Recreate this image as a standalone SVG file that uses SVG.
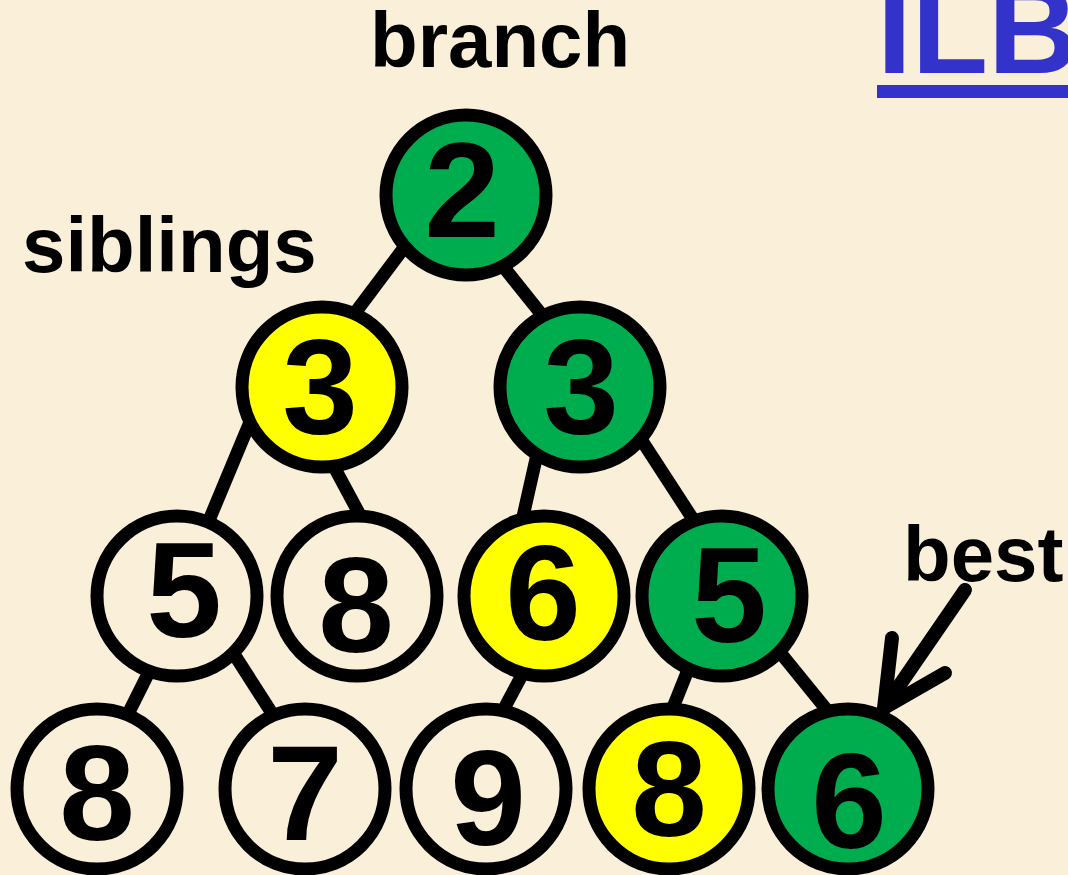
<svg xmlns="http://www.w3.org/2000/svg" width="1068" height="875" viewBox="0 0 1068 875">
<style>
.edge{stroke:#000;stroke-width:13;stroke-linecap:butt;fill:none}
.nd{stroke:#000;stroke-width:13}
.w{fill:#FAEFD9}
.g{fill:#00AD4E}
.y{fill:#FFFF00}
.num{font-family:"Liberation Sans",Arial,sans-serif;font-weight:bold;font-size:136px;fill:#000;text-anchor:middle}
.lbl{font-family:"Liberation Sans",Arial,sans-serif;font-weight:bold;font-size:78px;fill:#000}
</style>
<rect x="0" y="0" width="1068" height="875" fill="#FAEFD9"/>
<g id="connectors">
<line class="edge" x1="415" y1="233" x2="340" y2="333"/>
<line class="edge" x1="490" y1="250" x2="550" y2="325"/>
<line class="edge" x1="255" y1="410" x2="205" y2="530"/>
<line class="edge" x1="325" y1="450" x2="368" y2="530"/>
<line class="edge" x1="538" y1="450" x2="520" y2="530"/>
<line class="edge" x1="635" y1="430" x2="700" y2="530"/>
<line class="edge" x1="155" y1="660" x2="125" y2="720"/>
<line class="edge" x1="225" y1="640" x2="275" y2="718"/>
<line class="edge" x1="530" y1="660" x2="498" y2="720"/>
<line class="edge" x1="692" y1="660" x2="668" y2="720"/>
<line class="edge" x1="770" y1="640" x2="835" y2="720"/>
</g>
<g id="n-root"><circle class="nd g" cx="466" cy="195" r="80"/><text class="num" x="462" y="237">2</text></g>
<g id="n-3y"><circle class="nd y" cx="322" cy="387" r="80"/><text class="num" x="320" y="433">3</text></g>
<g id="n-3g"><circle class="nd g" cx="580" cy="387" r="80"/><text class="num" x="581" y="433">3</text></g>
<g id="n-5w"><circle class="nd w" cx="177" cy="596" r="80"/><text class="num" x="184" y="637">5</text></g>
<g id="n-8w"><circle class="nd w" cx="357" cy="596" r="80"/><text class="num" x="356" y="652">8</text></g>
<g id="n-6y"><circle class="nd y" cx="544" cy="596" r="80"/><text class="num" x="543" y="640">6</text></g>
<g id="n-5g"><circle class="nd g" cx="722" cy="596" r="80"/><text class="num" x="729" y="642">5</text></g>
<g id="n-8a"><circle class="nd w" cx="97" cy="789" r="80"/><text class="num" x="97" y="840">8</text></g>
<g id="n-7"><circle class="nd w" cx="305" cy="789" r="80"/><text class="num" x="305" y="840">7</text></g>
<g id="n-9"><circle class="nd w" cx="486" cy="789" r="80"/><text class="num" x="488" y="845">9</text></g>
<g id="n-8y"><circle class="nd y" cx="669" cy="789" r="80"/><text class="num" x="669" y="836">8</text></g>
<g id="n-6g"><circle class="nd g" cx="848" cy="789" r="80"/><text class="num" x="849" y="848">6</text></g>
<g id="labels">
<text class="lbl" x="370" y="67">branch</text>
<text class="lbl" x="22" y="272">siblings</text>
<text class="lbl" x="903" y="581">best</text>
<text x="877" y="73" font-family="Liberation Sans,Arial,sans-serif" font-weight="bold" font-size="125" fill="#3333CC">ILB</text>
<rect x="877" y="85" width="191" height="13" fill="#3333CC"/>
</g>
<g id="arrow" fill="none" stroke="#000" stroke-width="14" stroke-linecap="round" stroke-linejoin="round">
<line x1="965" y1="590" x2="888" y2="702"/>
<polyline points="892,638 884,708 945,673"/>
</g>
</svg>
